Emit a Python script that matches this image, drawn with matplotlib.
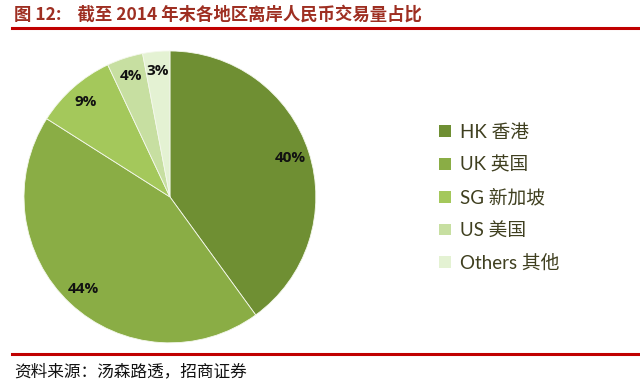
import numpy as np
import matplotlib.pyplot as plt
from matplotlib.lines import Line2D
from matplotlib.patches import Patch

plt.rcParams['font.family'] = ['Noto Sans CJK SC', 'DejaVu Sans']

# data
regions = ['HK 香港', 'UK 英国', 'SG 新加坡', 'US 美国', 'Others 其他']
shares = [40, 44, 9, 4, 3]
colors = ['#6F8F33', '#8AAD45', '#A4C85B', '#C7DFA1', '#E4F2D3']

title = '图 12:    截至 2014 年末各地区离岸人民币交易量占比'
source = '资料来源：汤森路透，招商证券'

fig = plt.figure(figsize=(6.4, 3.88), dpi=100)

# pie
ax = fig.add_axes([0.0375, 0.116, 0.456, 0.753])
wedges, _ = ax.pie(shares, colors=colors, startangle=90, counterclock=False,
                   radius=1, wedgeprops={'linewidth': 0.6, 'edgecolor': '#F4F8EC'})
ax.set_xlim(-1.0, 1.0)
ax.set_ylim(-1.0, 1.0)
ax.set_aspect('equal')

for w, v in zip(wedges, shares):
    mid = np.deg2rad((w.theta1 + w.theta2) / 2)
    ax.text(0.87 * np.cos(mid), 0.87 * np.sin(mid), f'{v}%',
            ha='center', va='center', fontsize=11, fontweight='bold',
            family=['Open Sans', 'DejaVu Sans'], color='#111111')

# legend
handles = [Patch(facecolor=c, edgecolor='none') for c in colors]
fig.legend(handles, regions, loc='center left', bbox_to_anchor=(0.66, 0.49),
           frameon=False, handlelength=0.6, handleheight=0.6,
           handletextpad=0.5, labelspacing=0.82, labelcolor='#3F3F1F',
           prop={'family': ['Lato', 'Noto Sans CJK SC'], 'size': 13.5})

# title and rules
fig.text(0.022, 0.962, title, fontsize=12.5, fontweight='bold', color='#9E2F22',
         ha='left', va='center')
fig.add_artist(Line2D([0.018, 1.0], [0.927, 0.927], color='#C00000', lw=2.2))
fig.add_artist(Line2D([0.018, 1.0], [0.088, 0.088], color='#C00000', lw=2.2))
fig.text(0.022, 0.041, source, fontsize=12, color='#111111', ha='left', va='center')

fig.savefig('out.png', dpi=100)
